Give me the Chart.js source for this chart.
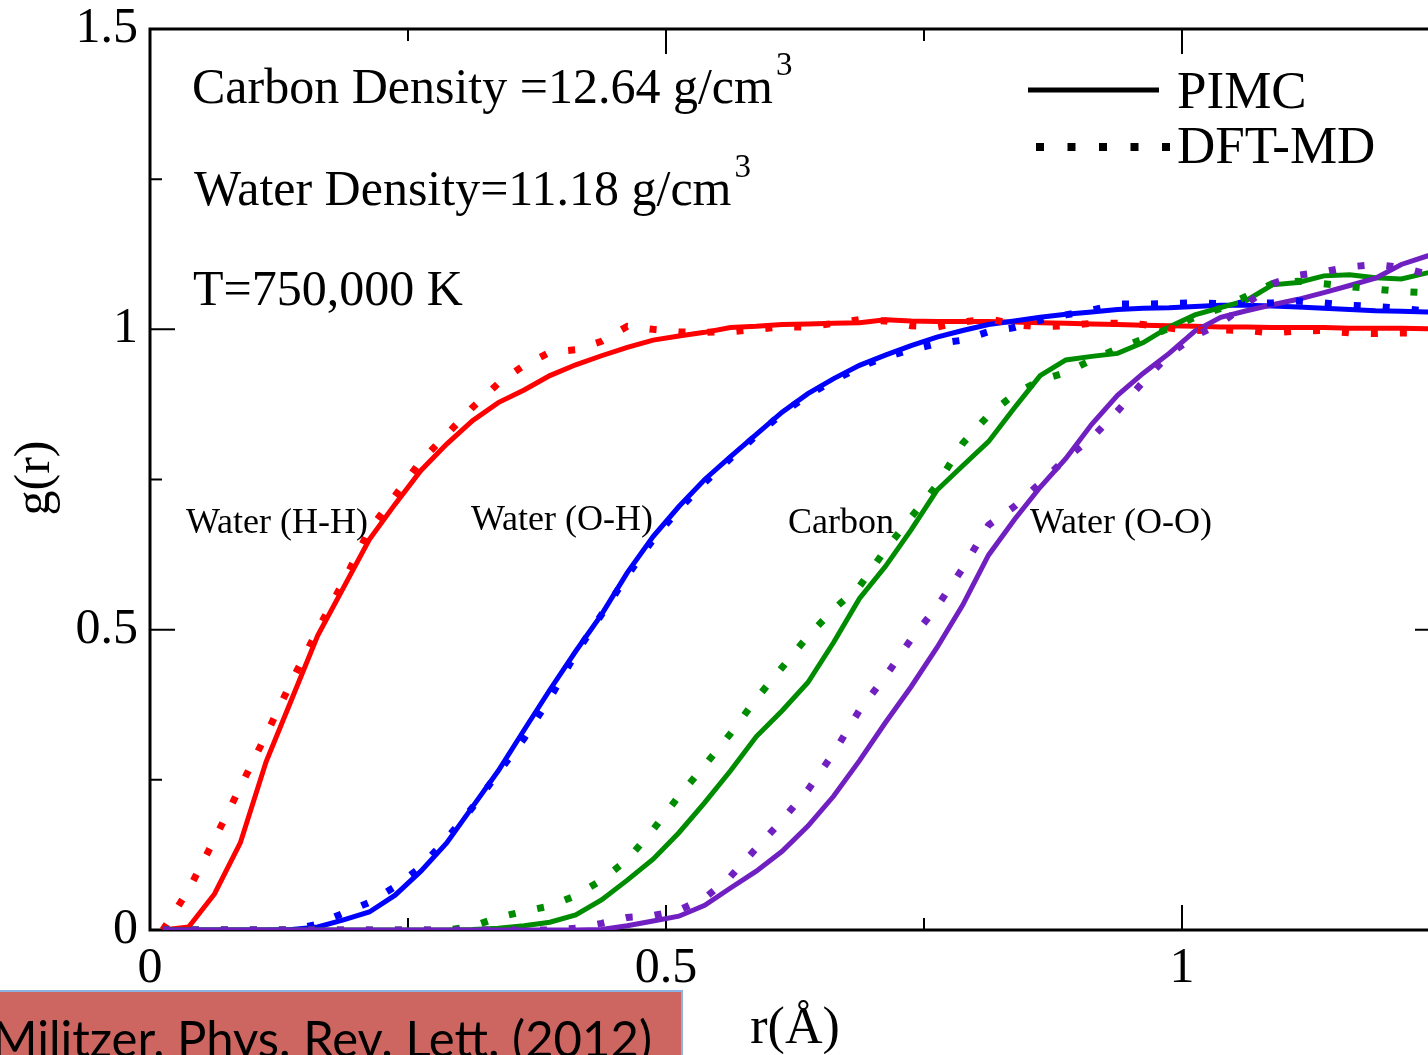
<!DOCTYPE html>
<html>
<head>
<meta charset="utf-8">
<script src="https://cdn.jsdelivr.net/npm/chart.js@4.4.1/dist/chart.umd.min.js"></script>
<style>
  html, body { margin: 0; padding: 0; overflow: hidden; background: #fff; }
  #wrap { position: relative; width: 1450px; height: 1055px; }
</style>
</head>
<body>
<div id="wrap"><canvas id="grafico" width="1450" height="1055"></canvas></div>
<script>
// --- DATOS ---
const r = [0.0125, 0.0375, 0.0625, 0.0875, 0.1125, 0.1375, 0.1625, 0.1875, 0.2125, 0.2375,
  0.2625, 0.2875, 0.3125, 0.3375, 0.3625, 0.3875, 0.4125, 0.4375, 0.4625, 0.4875,
  0.5125, 0.5375, 0.5625, 0.5875, 0.6125, 0.6375, 0.6625, 0.6875, 0.7125, 0.7375,
  0.7625, 0.7875, 0.8125, 0.8375, 0.8625, 0.8875, 0.9125, 0.9375, 0.9625, 0.9875,
  1.0125, 1.0375, 1.0625, 1.0875, 1.1125, 1.1375, 1.1625, 1.1875, 1.2125, 1.2375, 1.2625];

const pimcHH = [0.000, 0.005, 0.060, 0.145, 0.280, 0.385, 0.490, 0.570, 0.650, 0.709,
  0.765, 0.809, 0.848, 0.878, 0.899, 0.923, 0.941, 0.956, 0.970, 0.982,
  0.989, 0.995, 1.003, 1.005, 1.008, 1.009, 1.010, 1.011, 1.016, 1.014,
  1.013, 1.013, 1.013, 1.012, 1.011, 1.010, 1.009, 1.008, 1.007, 1.006,
  1.005, 1.004, 1.004, 1.003, 1.003, 1.003, 1.002, 1.002, 1.002, 1.001, 1.001];
const dftHH = [0.000, 0.067, 0.151, 0.238, 0.325, 0.415, 0.500, 0.580, 0.666, 0.723,
  0.781, 0.825, 0.870, 0.910, 0.940, 0.962, 0.966, 0.980, 1.005, 1.000,
  0.996, 0.995, 0.996, 1.000, 1.004, 1.004, 1.010, 1.016, 1.014, 1.006,
  1.004, 1.012, 1.018, 1.008, 1.004, 1.006, 1.010, 1.010, 1.008, 1.002,
  0.998, 0.999, 0.998, 0.994, 0.997, 0.998, 0.994, 0.993, 0.994, 0.994, 0.994];

const pimcOH = [0, 0, 0, 0, 0, 0.001, 0.005, 0.017, 0.030, 0.058,
  0.098, 0.145, 0.205, 0.265, 0.333, 0.400, 0.464, 0.525, 0.595, 0.655,
  0.705, 0.750, 0.788, 0.825, 0.862, 0.893, 0.918, 0.940, 0.957, 0.973,
  0.987, 0.998, 1.008, 1.014, 1.020, 1.025, 1.029, 1.033, 1.035, 1.036,
  1.038, 1.040, 1.040, 1.039, 1.037, 1.035, 1.033, 1.031, 1.030, 1.029, 1.028];
const dftOH = [0, 0, 0, 0, 0, 0, 0.010, 0.028, 0.046, 0.072,
  0.105, 0.152, 0.204, 0.262, 0.319, 0.386, 0.460, 0.525, 0.590, 0.650,
  0.700, 0.745, 0.785, 0.823, 0.860, 0.890, 0.915, 0.937, 0.954, 0.966,
  0.976, 0.982, 0.996, 1.003, 1.015, 1.024, 1.032, 1.042, 1.042, 1.043,
  1.044, 1.043, 1.043, 1.044, 1.047, 1.044, 1.040, 1.038, 1.035, 1.030, 1.028];

const pimcC = [0, 0, 0, 0, 0, 0, 0, 0, 0, 0,
  0, 0, 0.001, 0.003, 0.007, 0.013, 0.025, 0.050, 0.083, 0.118,
  0.162, 0.212, 0.265, 0.322, 0.365, 0.412, 0.479, 0.552, 0.605, 0.666,
  0.732, 0.773, 0.813, 0.869, 0.923, 0.949, 0.955, 0.960, 0.978, 1.004,
  1.024, 1.036, 1.048, 1.074, 1.078, 1.089, 1.091, 1.086, 1.084, 1.094, 1.095];
const dftC = [0, 0, 0, 0, 0, 0, 0, 0, 0, 0,
  0, 0, 0.006, 0.021, 0.031, 0.040, 0.057, 0.083, 0.117, 0.167,
  0.223, 0.274, 0.327, 0.385, 0.437, 0.489, 0.534, 0.572, 0.633, 0.687,
  0.741, 0.810, 0.857, 0.892, 0.915, 0.928, 0.949, 0.968, 0.984, 1.002,
  1.020, 1.035, 1.055, 1.076, 1.080, 1.076, 1.071, 1.067, 1.063, 1.061, 1.060];

const pimcOO = [0, 0, 0, 0, 0, 0, 0, 0, 0, 0,
  0, 0, 0, 0, 0, 0, 0, 0.001, 0.007, 0.015,
  0.023, 0.041, 0.070, 0.098, 0.131, 0.173, 0.223, 0.282, 0.345, 0.405,
  0.470, 0.541, 0.624, 0.683, 0.737, 0.785, 0.842, 0.890, 0.927, 0.960,
  0.997, 1.020, 1.031, 1.041, 1.050, 1.061, 1.073, 1.085, 1.108, 1.122, 1.130];
const dftOO = [0, 0, 0, 0, 0, 0, 0, 0, 0, 0,
  0, 0, 0, 0, 0, 0, 0.003, 0.011, 0.021, 0.024,
  0.033, 0.053, 0.089, 0.136, 0.183, 0.233, 0.295, 0.366, 0.422, 0.484,
  0.538, 0.602, 0.674, 0.705, 0.744, 0.785, 0.819, 0.864, 0.913, 0.958,
  0.989, 1.010, 1.042, 1.076, 1.090, 1.096, 1.104, 1.108, 1.103, 1.092, 1.090];

const xLabels = [0, 0.5, 1];
const yLabels = [0, 0.5, 1, 1.5];

const serif = '"Liberation Serif", "Times New Roman", serif';
const puntos = v => r.map((x, i) => ({ x: x, y: v[i] }));

function serie(v, color, punteada) {
  return {
    data: puntos(v),
    borderColor: color,
    borderWidth: punteada ? 7 : 5,
    borderDash: punteada ? [7, 22] : [],
    pointRadius: 0,
    tension: 0,
    fill: false
  };
}

// sin relleno extra por las etiquetas: el área del gráfico la fija layout.padding
function sinRelleno(s) {
  s.paddingLeft = 0;
  s.paddingRight = 0;
  s.paddingTop = 0;
  s.paddingBottom = 0;
}

// --- MARCO Y MARCAS HACIA DENTRO ---
const marco = {
  id: 'marco',
  beforeDatasetsDraw(chart) {
    const { ctx, chartArea: a, scales } = chart;
    ctx.save();
    ctx.strokeStyle = '#000';
    ctx.lineWidth = 3;
    ctx.beginPath();
    ctx.moveTo(a.left, a.top);
    ctx.lineTo(a.left, a.bottom);
    ctx.lineTo(a.right, a.bottom);
    ctx.lineTo(a.right, a.top);
    ctx.closePath();
    ctx.stroke();

    ctx.lineWidth = 2;
    ctx.beginPath();
    scales.x.ticks.forEach(t => {
      const px = scales.x.getPixelForValue(t.value);
      const len = xLabels.includes(t.value) ? 25 : 12;
      ctx.moveTo(px, a.bottom); ctx.lineTo(px, a.bottom - len);
      ctx.moveTo(px, a.top); ctx.lineTo(px, a.top + len);
    });
    scales.y.ticks.forEach(t => {
      const py = scales.y.getPixelForValue(t.value);
      const len = yLabels.includes(t.value) ? 25 : 12;
      ctx.moveTo(a.left, py); ctx.lineTo(a.left + len, py);
      ctx.moveTo(a.right, py); ctx.lineTo(a.right - len, py);
    });
    ctx.stroke();
    ctx.restore();
  },
  afterDraw(chart) {
    const { ctx } = chart;
    ctx.save();
    ctx.fillStyle = '#000';
    ctx.textBaseline = 'alphabetic';

    // textos de condiciones
    ctx.font = '50px ' + serif;
    const t1 = 'Carbon Density =12.64 g/cm';
    const t2 = 'Water Density=11.18 g/cm';
    ctx.fillText(t1, 192, 103);
    ctx.fillText(t2, 194, 205);
    ctx.fillText('T=750,000 K', 193, 305);
    const w1 = ctx.measureText(t1).width;
    const w2 = ctx.measureText(t2).width;
    ctx.font = '33px ' + serif;
    ctx.fillText('3', 192 + w1 + 3, 75);
    ctx.fillText('3', 194 + w2 + 3, 177);

    // etiquetas de curvas
    ctx.font = '36px ' + serif;
    ctx.fillText('Water (H-H)', 186, 533);
    ctx.fillText('Water (O-H)', 471, 530);
    ctx.fillText('Carbon', 788, 533);
    ctx.fillText('Water (O-O)', 1030, 533);

    // leyenda
    ctx.strokeStyle = '#000';
    ctx.lineWidth = 5;
    ctx.beginPath();
    ctx.moveTo(1028, 90); ctx.lineTo(1159, 90);
    ctx.stroke();
    ctx.lineWidth = 8;
    ctx.setLineDash([8, 23.5]);
    ctx.beginPath();
    ctx.moveTo(1036, 147); ctx.lineTo(1172, 147);
    ctx.stroke();
    ctx.setLineDash([]);
    ctx.font = '53px ' + serif;
    ctx.fillText('PIMC', 1177, 108);
    ctx.fillText('DFT-MD', 1177, 163);

    // títulos de ejes
    ctx.font = '52px ' + serif;
    ctx.textAlign = 'center';
    ctx.fillText('r(Å)', 795, 1043);
    ctx.save();
    ctx.translate(49, 478);
    ctx.rotate(-Math.PI / 2);
    ctx.font = '50px ' + serif;
    ctx.fillText('g(r)', 0, 0);
    ctx.restore();

    // recuadro de referencia
    ctx.textAlign = 'left';
    ctx.fillStyle = '#cd6661';
    ctx.fillRect(0, 991, 682, 64);
    ctx.strokeStyle = '#8db3e2';
    ctx.lineWidth = 2;
    ctx.beginPath();
    ctx.moveTo(0, 991); ctx.lineTo(682, 991); ctx.lineTo(682, 1055);
    ctx.stroke();
    ctx.fillStyle = '#000';
    ctx.font = '50px Lato, "Open Sans", sans-serif';
    const ref = 'Militzer, Phys. Rev. Lett. (2012)';
    const wr = ctx.measureText(ref).width;
    ctx.translate(-8, 1057);
    ctx.scale(660 / wr, 1);
    ctx.fillText(ref, 0, 0);
    ctx.restore();
  }
};

const ctx = document.getElementById('grafico').getContext('2d');
new Chart(ctx, {
  type: 'line',
  data: {
    datasets: [
      serie(dftOO, '#7020c0', true),
      serie(dftC, '#008c00', true),
      serie(dftOH, '#0000ff', true),
      serie(dftHH, '#ff0000', true),
      serie(pimcOO, '#7020c0', false),
      serie(pimcC, '#008c00', false),
      serie(pimcOH, '#0000ff', false),
      serie(pimcHH, '#ff0000', false)
    ]
  },
  options: {
    responsive: false,
    animation: false,
    layout: { padding: { top: 29, right: 10, left: 0, bottom: 0 } },
    plugins: { legend: { display: false }, tooltip: { enabled: false } },
    scales: {
      x: {
        type: 'linear',
        min: 0,
        max: 1.25,
        afterFit: s => { s.height = 125; sinRelleno(s); },
        grid: { display: false, drawTicks: false },
        border: { display: false },
        ticks: {
          stepSize: 0.25,
          autoSkip: false,
          maxRotation: 0,
          padding: 14,
          color: '#000',
          font: { family: serif, size: 50, lineHeight: 1 },
          callback: v => xLabels.includes(v) ? String(v) : ''
        }
      },
      y: {
        min: 0,
        max: 1.5,
        afterFit: s => { s.width = 150; sinRelleno(s); },
        grid: { display: false, drawTicks: false },
        border: { display: false },
        ticks: {
          stepSize: 0.25,
          autoSkip: false,
          padding: 12,
          color: '#000',
          font: { family: serif, size: 50, lineHeight: 1 },
          callback: v => yLabels.includes(v) ? String(v) : ''
        }
      }
    }
  },
  plugins: [marco]
});
</script>
</body>
</html>
